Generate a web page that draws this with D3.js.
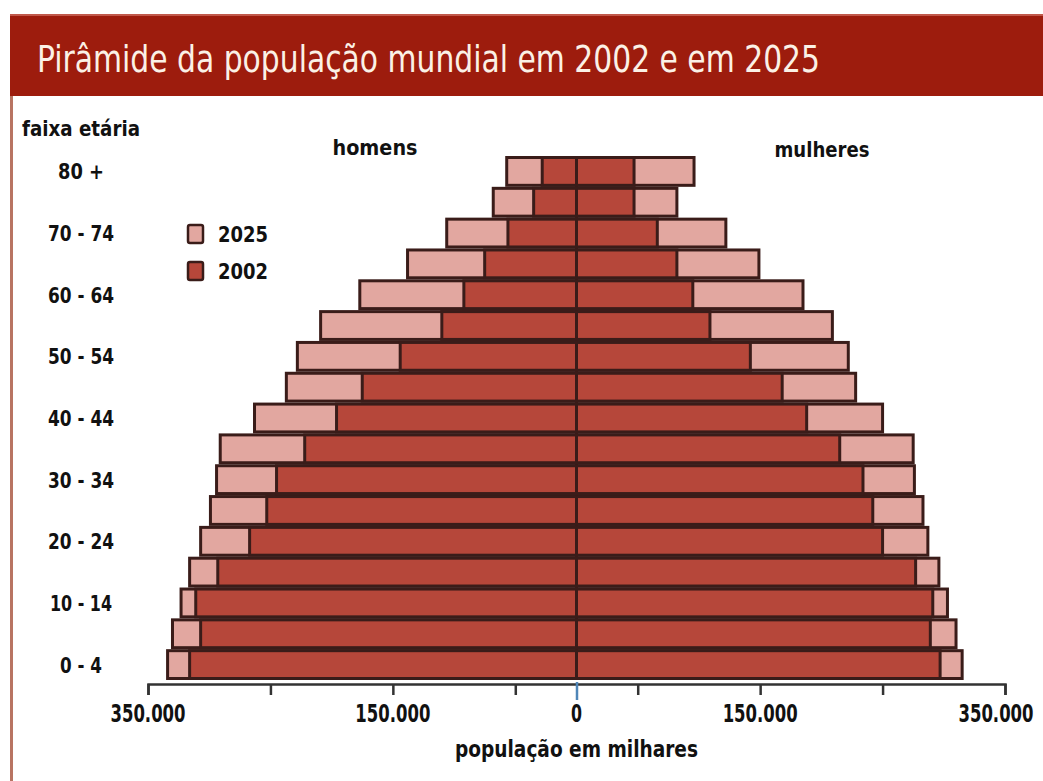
<!DOCTYPE html>
<html>
<head>
<meta charset="utf-8">
<script src="https://cdn.jsdelivr.net/npm/d3@7"></script>
<style>
  html, body { margin: 0; padding: 0; background: #ffffff; }
  svg { display: block; }
</style>
</head>
<body>
<svg id="chart" width="1043" height="781"></svg>
<script>
// ---- data (thousands of people) ----
const ageGroups = ["0 - 4","5 - 9","10 - 14","15 - 19","20 - 24","25 - 29","30 - 34","35 - 39",
                   "40 - 44","45 - 49","50 - 54","55 - 59","60 - 64","65 - 69","70 - 74","75 - 79","80 +"];
const labeledGroups = ["0 - 4","10 - 14","20 - 24","30 - 34","40 - 44","50 - 54","60 - 64","70 - 74","80 +"];
const men2002   = [316,307,311,293,267,253,245,222,196,175,144,110,92,75,56,35,28];
const men2025   = [334,330,323,316,307,299,294,291,263,237,228,209,177,138,106,68,57];
const women2002 = [297,289,291,277,250,242,234,215,188,168,142,109,95,82,66,47,47];
const women2025 = [315,310,303,296,287,283,276,275,250,228,222,209,185,149,122,82,96];
const tickValues = [-350,-250,-150,-50,0,50,150,250,350];
const tickLabelValues = [-350,-150,0,150,350];
const seriesNames = ["2025","2002"];

const colors = { "2002": "#b6473a", "2025": "#e2a7a0" };
const stroke = "#3a1c19";
const font = "'DejaVu Sans Condensed','Liberation Sans Narrow',sans-serif";

const svg = d3.select("#chart");

// helper: bold condensed label squeezed to a measured width
function label(sel, txt, xPos, yPos, size, width, anchor){
  return sel.append("text").attr("x",xPos).attr("y",yPos)
    .attr("text-anchor",anchor||"start")
    .attr("font-family",font).attr("font-weight","bold").attr("font-size",size).attr("fill","#111")
    .attr("textLength",width).attr("lengthAdjust","spacingAndGlyphs").text(txt);
}

// panel
svg.append("rect").attr("x",0).attr("y",0).attr("width",1043).attr("height",781).attr("fill","#ffffff");
svg.append("rect").attr("x",10).attr("y",95).attr("width",3).attr("height",686).attr("fill","#b87462");
svg.append("rect").attr("x",10).attr("y",14).attr("width",1033).attr("height",82).attr("fill","#9d1c0d");
svg.append("rect").attr("x",10).attr("y",14).attr("width",1033).attr("height",2).attr("fill","#c0584a");
svg.append("text").attr("x",37).attr("y",72)
  .attr("font-family",font).attr("font-size",38).attr("fill","#fbf1e6")
  .attr("textLength",783).attr("lengthAdjust","spacingAndGlyphs")
  .text("Pirâmide da população mundial em 2002 e em 2025");

// scales
const x = d3.scaleLinear().domain([-350,350]).range([148,1005]);
const y = d3.scaleBand().domain(ageGroups.slice().reverse()).range([156,680]).paddingInner(0);
const x0 = x(0);

const rows = ageGroups.map((g,i)=>({g, m02:men2002[i], m25:men2025[i], w02:women2002[i], w25:women2025[i]}));

const bars = svg.append("g");
function drawSide(key, sign, color){
  bars.selectAll(null).data(rows).enter().append("rect")
    .attr("x", d => sign < 0 ? x(-d[key]) : x0)
    .attr("width", d => Math.abs(x(sign*d[key]) - x0))
    .attr("y", d => y(d.g) + 1.5)
    .attr("height", y.bandwidth() - 3)
    .attr("fill", color)
    .attr("stroke", stroke).attr("stroke-width", 3);
}
drawSide("m25",-1,colors["2025"]);
drawSide("w25", 1,colors["2025"]);
drawSide("m02",-1,colors["2002"]);
drawSide("w02", 1,colors["2002"]);

// axis
const axisY = 684;
const axis = d3.axisBottom(x).tickValues(tickValues).tickSize(11).tickFormat("");
const ag = svg.append("g").attr("transform",`translate(0,${axisY})`).call(axis);
ag.select(".domain").attr("stroke","#333").attr("stroke-width",2.5);
ag.selectAll(".tick line").attr("stroke","#333").attr("stroke-width",2.5)
  .filter(d => d===0).attr("stroke","#4f86b8").attr("y1",-2).attr("y2",16);

const fmt = v => v===0 ? "0" : d3.format(",")(Math.abs(v)*1000).replace(/,/g,".");
const tl = svg.append("g");
tickLabelValues.forEach(v => {
  const t = fmt(v);
  let cx = x(v);
  if (v === 350) cx = 996;
  label(tl, t, cx, 722, 24, t.length > 1 ? 75 : 11, "middle");
});

label(svg, "população em milhares", x0, 757, 23, 243, "middle");

// y labels
label(svg, "faixa etária", 22, 136, 22, 118);
const widths = {"80 +":46,"70 - 74":66,"60 - 64":66,"50 - 54":66,"40 - 44":66,"30 - 34":66,"20 - 24":66,"10 - 14":62,"0 - 4":42};
labeledGroups.forEach(g => {
  label(svg, g, 81, y(g) + y.bandwidth()/2 + 8, 22, widths[g], "middle");
});

label(svg, "homens", 375, 155, 22, 85, "middle");
label(svg, "mulheres", 822, 157, 22, 95, "middle");

// legend
const lg = svg.append("g").selectAll("g").data(seriesNames).enter().append("g")
  .attr("transform",(d,i)=>`translate(188,${225 + i*37})`);
lg.append("rect").attr("width",15).attr("height",18).attr("rx",2)
  .attr("fill", d => colors[d]).attr("stroke",stroke).attr("stroke-width",2.5);
lg.each(function(d){ label(d3.select(this), d, 30, 17, 22, 50); });
</script>
</body>
</html>
